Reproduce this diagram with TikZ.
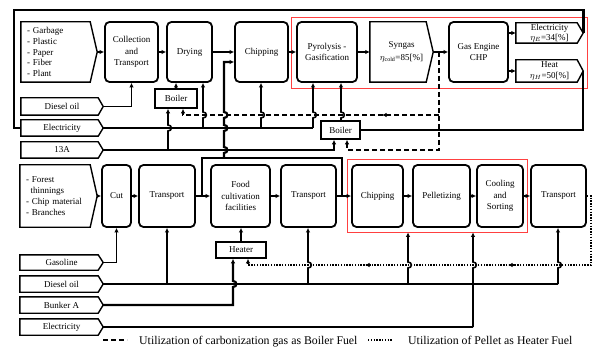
\documentclass[tikz,border=0pt]{standalone}
\usepackage{fontspec}
\setmainfont{Liberation Serif}
\usetikzlibrary{arrows.meta,calc}
\newcommand\B[6]{\node[#1,minimum width={(#4)-(#2)},minimum height={(#5)-(#3)}] (#6) at ({((#2)+(#4))/2},{((#3)+(#5))/2})}
\newcommand\sigo[2]{\draw[line width=1.4pt,line join=miter] (#1.north west) -- ([xshift=-#2pt]#1.north east) -- (#1.east) -- ([xshift=-#2pt]#1.south east) -- (#1.south west) -- cycle;}
\newcommand\hp[2]{-- (#1,#2+3) .. controls (#1+4.5,#2+3) and (#1+4.5,#2-3) .. (#1,#2-3)}
\tikzset{
 every node/.style={font=\fontsize{9}{11.5}\selectfont, inner sep=0pt},
 rbox/.style={draw, line width=1.8pt, rounded corners=4.5pt, align=center},
 pbox/.style={draw, line width=1.6pt, align=center},
 inb/.style={align=center},
 sig/.style={align=left, inner xsep=6pt},
 conn/.style={line width=1.6pt},
 arr/.style={-{Latex[length=4.5pt,width=4.5pt]}},
 fat/.style={line width=2.6pt},
 dsh/.style={line width=1.6pt, dash pattern=on 5pt off 3pt},
 dots/.style={line width=1.8pt, dash pattern=on 1.4pt off 1.4pt},
 redbox/.style={draw=red!75, line width=0.8pt},
 legend/.style={anchor=base west,font=\fontsize{11.8}{13}\selectfont},
}
\begin{document}
\begin{tikzpicture}[x=1pt,y=-1pt]
\useasboundingbox (0,0) rectangle (593,347);
% red groups
\B{redbox}{291}{17}{587}{88}{red1}{};
\B{redbox}{347}{159}{527}{232}{red2}{};
% top row
\B{sig,text width=64pt,font=\fontsize{9}{10.7}\selectfont}{21}{22}{97}{82}{gin}{- Garbage\\- Plastic\\- Paper\\- Fiber\\- Plant}; \sigo{gin}{7}
\B{rbox}{105}{22}{158}{82}{coll}{Collection\\and\\Transport};
\B{rbox}{167}{22}{212}{82}{dry}{Drying};
\B{rbox}{235}{22}{288}{82}{chip1}{Chipping};
\B{rbox}{297}{22}{357}{82}{pyro}{Pyrolysis -\\Gasification};
\B{inb,font=\fontsize{9}{13}\selectfont}{370}{22}{433}{82}{syn}{Syngas\\$\eta_{\mathrm{cold}}$=85[\%]}; \sigo{syn}{7}
\B{rbox}{449}{22}{508}{82}{gas}{Gas Engine\\CHP};
\B{inb,font=\fontsize{9}{10}\selectfont}{516}{23}{583}{43}{elo}{Electricity\\$\eta_E$=34[\%]}; \sigo{elo}{6}
\B{inb,font=\fontsize{9}{10.5}\selectfont}{516}{60}{583}{82}{heo}{Heat\\$\eta_H$=50[\%]}; \sigo{heo}{6}
% top inputs
\B{inb}{21}{98}{103}{115}{dsl1}{Diesel oil}; \sigo{dsl1}{5}
\B{inb}{21}{120}{103}{136}{ele1}{Electricity}; \sigo{ele1}{5}
\B{inb}{21}{142}{103}{158}{a13}{13A}; \sigo{a13}{5}
\B{pbox}{155}{89}{197}{108}{boil1}{Boiler};
\B{pbox}{321}{121}{360}{139}{boil2}{Boiler};
% bottom row
\B{sig,text width=65pt,font=\fontsize{9}{11}\selectfont}{20}{165}{97}{227}{fin}{- Forest\\\hspace*{4.5pt}thinnings\\- Chip material\\- Branches}; \sigo{fin}{7}
\B{rbox}{102}{165}{131}{227}{cut}{Cut};
\B{rbox}{139}{165}{195}{227}{tr1}{Transport};
\B{rbox}{211}{165}{270}{227}{food}{Food\\cultivation\\facilities};
\B{rbox}{281}{165}{336}{227}{tr2}{Transport};
\B{rbox}{352}{165}{403}{227}{chip2}{Chipping};
\B{rbox}{413}{165}{470}{227}{pel}{Pelletizing};
\B{rbox}{477}{165}{523}{227}{cool}{Cooling\\and\\Sorting};
\B{rbox}{531}{165}{586}{227}{tr3}{Transport};
\B{pbox}{216}{242}{266}{258}{heater}{Heater};
\B{inb}{20}{255}{103}{270}{gaso}{Gasoline}; \sigo{gaso}{5}
\B{inb}{20}{276}{103}{292}{dsl2}{Diesel oil}; \sigo{dsl2}{5}
\B{inb}{20}{297}{103}{313}{bunk}{Bunker A}; \sigo{bunk}{5}
\B{inb}{20}{319}{103}{335}{ele2}{Electricity}; \sigo{ele2}{5}
% top row arrows
\draw[conn,arr] (gin.east) -- (coll.west);
\draw[conn,arr] (coll.east) -- (dry.west);
\draw[conn,arr] (dry.east) -- (chip1.west);
\draw[conn,arr] (chip1.east) -- (pyro.west);
\draw[conn,arr] (pyro.east) -- (syn.west);
\draw[conn,arr] (syn.east) -- (gas.west);
\draw[conn,arr] (gas.east |- elo.west) -- (elo.west);
\draw[conn,arr] (gas.east |- heo.west) -- (heo.west);
\coordinate (J) at (439,52);
% frame and heat return
\draw[fat,line join=miter] (elo.east) -- (elo.east |- 0,10) -- (14,10) -- (14,128) -- (ele1.west);
\draw[line width=2.2pt] (heo.east) |- (boil2.east);
% diesel top
\draw[conn,arr] (dsl1.east) -| (coll.south);
% electricity top
\draw[line width=2pt] (ele1.east) -- (313,128);
\draw[conn,arr] (313,128) \hp{313}{115} -- (pyro.south -| 313,0);
\draw[conn,arr] (203,128) \hp{203}{115} -- (dry.south -| 203,0);
\draw[conn,arr] (261,128) \hp{261}{115} -- (chip1.south -| 261,0);
% 13A
\draw[conn,arr] (a13.east) -- (334,150) -- (boil2.south -| 334,0);
\draw[conn,arr] (168,150) \hp{168}{128} -- (boil1.south -| 168,0);
% boilers
\draw[conn,arr] (boil1.north) -- (boil1.north |- dry.south);
\draw[conn,arr] (boil2.north -| 341,0) \hp{341}{115} -- (pyro.south -| 341,0);
% dashed carbonization gas
\draw[dsh,arr] (J) -- (439,150) -- (347,150) -- (boil2.south -| 347,0);
\draw[dsh,arr] (439,115) -- (183,115) -- (boil1.south -| 183,0);
\draw[conn,arr] (388,115) -- (382,115);
% loop
\draw[conn,arr] (tr1.east) -- (food.west);
\draw[fat,line join=miter] (tr1.east -| 202,0) -- (202,158) -- (342,158) -- (tr2.east -| 342,0);
\draw[line width=2.2pt,arr] (224,158) \hp{224}{150} \hp{224}{128} \hp{224}{115} -- (224,62) -- (chip1.west |- 0,62);
\draw[conn,arr] (tr2.east) -- (chip2.west);
% bottom arrows
\draw[conn,arr] (fin.east) -- (cut.west);
\draw[conn,arr] (cut.east) -- (tr1.west);
\draw[conn,arr] (food.east) -- (tr2.west);
\draw[conn,arr] (chip2.east) -- (pel.west);
\draw[conn,arr] (pel.east) -- (cool.west);
\draw[conn,arr] (cool.east) -- (tr3.west);
\draw[conn,arr] (gaso.east) -| (cut.south);
\draw[line width=1.2pt] (dsl2.east) -- (558,284);
\draw[conn,arr] (167,284) -- (tr1.south);
\draw[conn,arr] (308,284) \hp{308}{265} -- (tr2.south -| 308,0);
\draw[conn,arr] (408,284) \hp{408}{265} -- (red2.south -| 408,0);
\draw[conn,arr] (558,284) \hp{558}{265} -- (tr3.south -| 558,0);
\draw[line width=2.4pt] (ele2.east) -- (473,327);
\draw[conn,arr] (473,327) \hp{473}{265} -- (red2.south -| 473,0);
\draw[line width=2.2pt,arr] (bunk.east) -- (233,305) \hp{233}{284} -- (heater.south -| 233,0);
\draw[conn,arr] (heater.north) -- (heater.north |- food.south);
% dotted pellet
\draw[dots,arr] (tr3.east) -- (591,196) -- (591,265) -- (248,265) -- (heater.south -| 248,0);
\draw[conn,arr] (514,265) -- (508,265);
\draw[conn,arr] (371,265) -- (365,265);
% legend
\draw[dsh] (103,340) -- (127,340);
\node[legend] (lg1) at (139,344) {Utilization of carbonization gas as Boiler Fuel};
\draw[dots] (368,340) -- (392,340);
\node[legend] (lg2) at (408,344) {Utilization of Pellet as Heater Fuel};
\end{tikzpicture}
\end{document}
